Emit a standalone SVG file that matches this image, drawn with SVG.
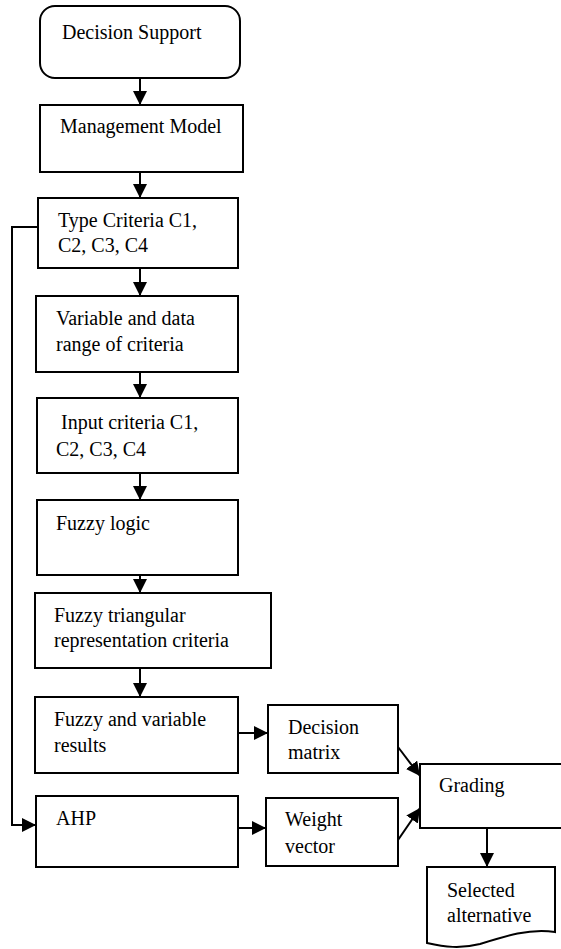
<svg xmlns="http://www.w3.org/2000/svg" width="561" height="949" viewBox="0 0 561 949">
<style>
.b{fill:#fff;stroke:#000;stroke-width:2}
.c{fill:none;stroke:#000;stroke-width:2}
text{font-family:'Liberation Serif',serif;font-size:20px;fill:#000}
</style>
<defs>
<marker id="a" viewBox="0 0 14 14" refX="14" refY="7" markerWidth="14" markerHeight="14" markerUnits="userSpaceOnUse" orient="auto">
<path d="M0,0 L14,7 L0,14 Z" fill="#000"/>
</marker>
</defs>
<rect width="561" height="949" fill="#fff"/>
<g id="connectors">
<line class="c" x1="140" y1="78" x2="140" y2="105" marker-end="url(#a)"/>
<line class="c" x1="140" y1="172" x2="140" y2="198" marker-end="url(#a)"/>
<line class="c" x1="140" y1="268" x2="140" y2="296" marker-end="url(#a)"/>
<line class="c" x1="140" y1="372" x2="140" y2="398" marker-end="url(#a)"/>
<line class="c" x1="140" y1="473" x2="140" y2="500" marker-end="url(#a)"/>
<line class="c" x1="140" y1="575" x2="140" y2="593" marker-end="url(#a)"/>
<line class="c" x1="140" y1="668" x2="140" y2="697" marker-end="url(#a)"/>
<line class="c" x1="238" y1="733" x2="268" y2="733" marker-end="url(#a)"/>
<line class="c" x1="238" y1="828" x2="266" y2="828" marker-end="url(#a)"/>
<polyline class="c" points="38,227 12,227 12,825 36,825" marker-end="url(#a)"/>
<line class="c" x1="398" y1="747" x2="420" y2="776" marker-end="url(#a)"/>
<line class="c" x1="398" y1="840" x2="420" y2="808" marker-end="url(#a)"/>
<line class="c" x1="487" y1="828" x2="487" y2="867" marker-end="url(#a)"/>
</g>
<g id="n1"><rect class="b" x="40" y="6" width="200" height="72" rx="15"/><text font-family="Liberation Serif" x="62" y="39">Decision Support</text></g>
<g id="n2"><rect class="b" x="40" y="105" width="203" height="67"/><text font-family="Liberation Serif" x="60" y="133">Management Model</text></g>
<g id="n3"><rect class="b" x="38" y="198" width="200" height="70"/><text font-family="Liberation Serif" x="58" y="227">Type Criteria C1,</text><text font-family="Liberation Serif" x="58" y="252">C2, C3, C4</text></g>
<g id="n4"><rect class="b" x="36" y="296" width="202" height="76"/><text font-family="Liberation Serif" x="56" y="325">Variable and data</text><text font-family="Liberation Serif" x="56" y="351">range of criteria</text></g>
<g id="n5"><rect class="b" x="37" y="398" width="201" height="75"/><text font-family="Liberation Serif" x="61" y="429">Input criteria C1,</text><text font-family="Liberation Serif" x="56" y="456">C2, C3, C4</text></g>
<g id="n6"><rect class="b" x="37" y="500" width="201" height="75"/><text font-family="Liberation Serif" x="56" y="530">Fuzzy logic</text></g>
<g id="n7"><rect class="b" x="35" y="593" width="236" height="75"/><text font-family="Liberation Serif" x="54" y="622">Fuzzy triangular</text><text font-family="Liberation Serif" x="54" y="647">representation criteria</text></g>
<g id="n8"><rect class="b" x="35" y="697" width="203" height="76"/><text font-family="Liberation Serif" x="54" y="726">Fuzzy and variable</text><text font-family="Liberation Serif" x="54" y="752">results</text></g>
<g id="n9"><rect class="b" x="268" y="705" width="130" height="68"/><text font-family="Liberation Serif" x="288" y="734">Decision</text><text font-family="Liberation Serif" x="288" y="759">matrix</text></g>
<g id="n10"><rect class="b" x="36" y="796" width="202" height="71"/><text font-family="Liberation Serif" x="56" y="825">AHP</text></g>
<g id="n11"><rect class="b" x="266" y="798" width="132" height="68"/><text font-family="Liberation Serif" x="285" y="826">Weight</text><text font-family="Liberation Serif" x="285" y="853">vector</text></g>
<g id="n12"><rect class="b" x="420" y="764" width="150" height="64"/><text font-family="Liberation Serif" x="439" y="792">Grading</text></g>
<g id="n13"><path class="b" d="M427,867 L555,867 L555,932 C530,928 505,936 480,944 C460,949 445,947 427,943 Z"/><text font-family="Liberation Serif" x="447" y="897">Selected</text><text font-family="Liberation Serif" x="447" y="922">alternative</text></g>
</svg>
